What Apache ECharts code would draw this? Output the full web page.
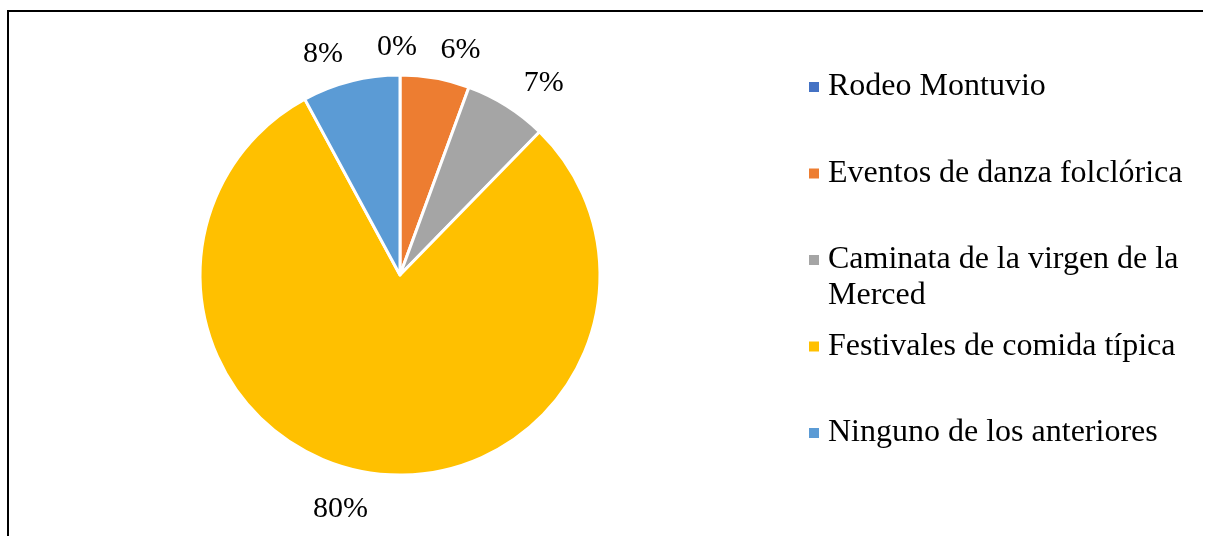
<!DOCTYPE html>
<html>
<head>
<meta charset="utf-8">
<script src="https://cdn.jsdelivr.net/npm/echarts@6/dist/echarts.min.js"></script>
<style>
  html, body { margin: 0; padding: 0; background: #fff; }
  #chart { width: 1213px; height: 536px; }
</style>
</head>
<body>
<div id="chart"></div>
<script>
// categorias y porcentajes
const categories = [
  'Rodeo Montuvio',
  'Eventos de danza folclórica',
  'Caminata de la virgen de la Merced',
  'Festivales de comida típica',
  'Ninguno de los anteriores'
];
const values = [0, 5.6, 6.7, 79.8, 7.9];
const colors = ['#4472C4', '#ED7D31', '#A5A5A5', '#FFC000', '#5B9BD5'];

const FONT = 'Liberation Serif, Times New Roman, serif';
const LINE = 36;

// texto largo de la leyenda va en dos lineas (linea vacia arriba para que
// el marcador quede a la altura de la primera linea)
function legendText(name) {
  return name === 'Caminata de la virgen de la Merced'
    ? '\nCaminata de la virgen de la\nMerced'
    : name;
}

const chart = echarts.init(document.getElementById('chart'));

chart.setOption({
  animation: false,
  color: colors,
  graphic: [
    { type: 'line', shape: { x1: 7, y1: 11, x2: 1203, y2: 11 }, style: { stroke: '#000', lineWidth: 2 } },
    { type: 'line', shape: { x1: 8, y1: 10, x2: 8, y2: 536 }, style: { stroke: '#000', lineWidth: 2 } }
  ],
  legend: {
    orient: 'vertical',
    left: 807,
    top: 33,
    padding: 0,
    itemGap: -21.5,
    itemWidth: 12,
    itemHeight: 12,
    icon: 'rect',
    selectedMode: false,
    formatter: legendText,
    textStyle: {
      fontFamily: FONT,
      fontSize: 32,
      lineHeight: LINE,
      color: '#000'
    },
    data: categories.map(function (name) {
      const twoLines = legendText(name).indexOf('\n') >= 0;
      return {
        name: name,
        textStyle: { padding: twoLines ? [0, 0, 0, 3] : [LINE, 0, LINE, 3] }
      };
    })
  },
  series: [{
    type: 'pie',
    center: [400, 275],
    radius: 200,
    startAngle: 90,
    clockwise: true,
    avoidLabelOverlap: false,
    itemStyle: { borderColor: '#fff', borderWidth: 3 },
    emphasis: { disabled: true },
    label: {
      show: true,
      position: 'outside',
      distanceToLabelLine: 0,
      fontFamily: FONT,
      fontSize: 30,
      color: '#000',
      formatter: function (p) { return Math.round(p.value) + '%'; }
    },
    labelLine: { show: false, length: 32, length2: 0 },
    labelLayout: function (p) {
      // la etiqueta de la porcion vacia queda centrada arriba
      if (values[p.dataIndex] === 0) return { align: 'center', dx: -3, dy: 4 };
      return { dy: 4 };
    },
    data: categories.map(function (name, i) {
      return { name: name, value: values[i] };
    })
  }]
});
</script>
</body>
</html>
